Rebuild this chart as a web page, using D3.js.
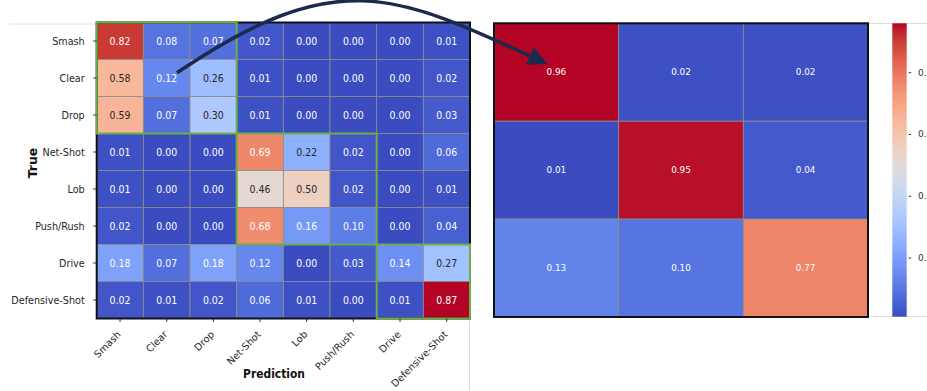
<!DOCTYPE html>
<html>
<head>
<meta charset="utf-8">
<script src="https://cdn.jsdelivr.net/npm/d3@7"></script>
<style>
  html, body { margin: 0; padding: 0; background: #fff; overflow: hidden; }
  svg { display: block; font-family: "DejaVu Sans", sans-serif; }
</style>
</head>
<body>
<svg id="chart" width="927" height="391"></svg>
<script>
// Shot classes of the 8x8 confusion matrix
const shotClasses = ["Smash", "Clear", "Drop", "Net-Shot", "Lob", "Push/Rush", "Drive", "Defensive-Shot"];

// Row-normalised confusion values (rows = true class, columns = predicted class)
const rowSmash     = [0.82, 0.08, 0.07, 0.02, 0.00, 0.00, 0.00, 0.01];
const rowClear     = [0.58, 0.12, 0.26, 0.01, 0.00, 0.00, 0.00, 0.02];
const rowDrop      = [0.59, 0.07, 0.30, 0.01, 0.00, 0.00, 0.00, 0.03];
const rowNetShot   = [0.01, 0.00, 0.00, 0.69, 0.22, 0.02, 0.00, 0.06];
const rowLob       = [0.01, 0.00, 0.00, 0.46, 0.50, 0.02, 0.00, 0.01];
const rowPushRush  = [0.02, 0.00, 0.00, 0.68, 0.16, 0.10, 0.00, 0.04];
const rowDrive     = [0.18, 0.07, 0.18, 0.12, 0.00, 0.03, 0.14, 0.27];
const rowDefensive = [0.02, 0.01, 0.02, 0.06, 0.01, 0.00, 0.01, 0.87];
const fineRows = [rowSmash, rowClear, rowDrop, rowNetShot, rowLob, rowPushRush, rowDrive, rowDefensive];

// Shot groups (index ranges into shotClasses) outlined on the 8x8 matrix
const groupStarts = [0, 3, 6];
const groupEnds   = [2, 5, 7];

// Grouped 3x3 confusion matrix
const groupIds = ["g0", "g1", "g2"];
const groupRow0 = [0.96, 0.02, 0.02];
const groupRow1 = [0.01, 0.95, 0.04];
const groupRow2 = [0.13, 0.10, 0.77];
const groupRows = [groupRow0, groupRow1, groupRow2];

// Colour bar tick values
const colorbarTicks = [0.2, 0.4, 0.6, 0.8];

// matplotlib "coolwarm" colour map stops
const coolwarmStops = [
  [59,76,192],[68,90,204],[77,104,215],[87,117,225],[98,130,234],[108,142,241],
  [119,154,247],[130,165,251],[141,176,254],[152,185,255],[163,194,255],[174,201,253],
  [184,208,249],[194,213,244],[204,217,238],[213,219,230],[221,221,221],[229,216,209],
  [236,211,197],[241,204,185],[245,196,173],[247,187,160],[247,177,148],[247,166,135],
  [244,154,123],[241,141,111],[236,127,99],[229,112,88],[222,96,77],[213,80,66],
  [203,62,56],[192,40,47],[180,4,38]
].map(c => d3.rgb(c[0], c[1], c[2]).formatHex());
const coolwarm = d3.scaleLinear()
  .domain(coolwarmStops.map((_, i) => i / (coolwarmStops.length - 1)))
  .range(coolwarmStops)
  .interpolate(d3.interpolateRgb)
  .clamp(true);

// Text colour on a cell, chosen by background luminance
function textColorFor(fill) {
  const c = d3.rgb(fill);
  const lin = v => { v /= 255; return v <= 0.03928 ? v / 12.92 : Math.pow((v + 0.055) / 1.055, 2.4); };
  const L = 0.2126 * lin(c.r) + 0.7152 * lin(c.g) + 0.0722 * lin(c.b);
  return L > 0.408 ? "#262626" : "#ffffff";
}

const svg = d3.select("#chart");
const fmt = d3.format(".2f");

// Thin panel edges framing the two figures
const edge = svg.append("g").attr("stroke", "#dedede").attr("stroke-width", 1).attr("fill", "none");
edge.append("line").attr("x1", 9).attr("x2", 97).attr("y1", 24).attr("y2", 24);
edge.append("line").attr("x1", 469.5).attr("x2", 469.5).attr("y1", 318).attr("y2", 391);
edge.append("line").attr("x1", 868).attr("x2", 927).attr("y1", 23.5).attr("y2", 23.5);
edge.append("line").attr("x1", 868).attr("x2", 927).attr("y1", 316.5).attr("y2", 316.5);

// ---------- 8x8 matrix ----------
const fx = d3.scaleBand().domain(shotClasses).range([96.7, 470]);
const fy = d3.scaleBand().domain(shotClasses).range([22.5, 318.5]);
const fineMax = d3.max(fineRows.flat());
const fineColor = v => coolwarm(v / fineMax);

const fineCells = [];
fineRows.forEach((row, i) => row.forEach((v, j) => fineCells.push({ t: shotClasses[i], p: shotClasses[j], v })));

const gF = svg.append("g");
gF.selectAll("rect.cell").data(fineCells).join("rect")
  .attr("class", "cell")
  .attr("x", d => fx(d.p)).attr("y", d => fy(d.t))
  .attr("width", fx.bandwidth()).attr("height", fy.bandwidth())
  .attr("fill", d => fineColor(d.v))
  .attr("stroke", "#8c8c8c").attr("stroke-width", 0.8);

gF.selectAll("g.val").data(fineCells).join("g")
  .attr("class", "val")
  .attr("transform", d => `translate(${fx(d.p) + fx.bandwidth() / 2},${fy(d.t) + fy.bandwidth() / 2}) scale(0.84,1)`)
  .append("text")
  .attr("text-anchor", "middle").attr("dominant-baseline", "central")
  .attr("font-size", 11.2)
  .attr("fill", d => textColorFor(fineColor(d.v)))
  .text(d => fmt(d.v));

// outer frame
gF.append("rect")
  .attr("x", fx.range()[0]).attr("y", fy.range()[0])
  .attr("width", fx.range()[1] - fx.range()[0]).attr("height", fy.range()[1] - fy.range()[0])
  .attr("fill", "none").attr("stroke", "#111").attr("stroke-width", 2);

// group outlines
groupStarts.forEach((s, k) => {
  const e = groupEnds[k];
  gF.append("rect")
    .attr("x", fx(shotClasses[s])).attr("y", fy(shotClasses[s]))
    .attr("width", fx(shotClasses[e]) + fx.bandwidth() - fx(shotClasses[s]))
    .attr("height", fy(shotClasses[e]) + fy.bandwidth() - fy(shotClasses[s]))
    .attr("fill", "none").attr("stroke", "#6aaf45").attr("stroke-width", 2);
});

// y axis: true classes
const yAxisG = gF.append("g");
shotClasses.forEach(c => {
  const yc = fy(c) + fy.bandwidth() / 2;
  yAxisG.append("line").attr("x1", fx.range()[0] - 3.5).attr("x2", fx.range()[0])
    .attr("y1", yc).attr("y2", yc).attr("stroke", "#333").attr("stroke-width", 1);
  yAxisG.append("g").attr("transform", `translate(${fx.range()[0] - 12},${yc}) scale(0.86,1)`)
    .append("text").attr("text-anchor", "end").attr("dominant-baseline", "central")
    .attr("font-size", 11.2).attr("fill", "#262626").text(c);
});

// x axis: predicted classes
const xAxisG = gF.append("g");
shotClasses.forEach(c => {
  const xc = fx(c) + fx.bandwidth() / 2;
  const y0 = fy.range()[1];
  xAxisG.append("line").attr("x1", xc).attr("x2", xc).attr("y1", y0).attr("y2", y0 + 3.5)
    .attr("stroke", "#333").attr("stroke-width", 1);
  xAxisG.append("text")
    .attr("transform", `translate(${xc - 1},${y0 + 14}) rotate(-45)`)
    .attr("text-anchor", "end").attr("dominant-baseline", "central")
    .attr("font-size", 9.8).attr("fill", "#262626").text(c);
});

// axis titles
gF.append("g").attr("transform", "translate(32,163) rotate(-90)")
  .append("text").attr("text-anchor", "middle").attr("dominant-baseline", "central")
  .attr("font-size", 12.5).attr("font-weight", "bold").attr("fill", "#111").text("True");
gF.append("g").attr("transform", "translate(274,374) scale(0.86,1)")
  .append("text").attr("text-anchor", "middle").attr("dominant-baseline", "central")
  .attr("font-size", 12.5).attr("font-weight", "bold").attr("fill", "#111").text("Prediction");

// ---------- 3x3 grouped matrix ----------
const gx = d3.scaleBand().domain(groupIds).range([494, 868]);
const gy = d3.scaleBand().domain(groupIds).range([23.3, 317]);
const cbScale = d3.scaleLinear()
  .domain([d3.min(groupRows.flat()), d3.max(groupRows.flat())])
  .range([316.7, 23.3]);
const groupColor = v => coolwarm((v - cbScale.domain()[0]) / (cbScale.domain()[1] - cbScale.domain()[0]));

const groupCells = [];
groupRows.forEach((row, i) => row.forEach((v, j) => groupCells.push({ t: groupIds[i], p: groupIds[j], v })));

const gG = svg.append("g");
gG.selectAll("rect.cell").data(groupCells).join("rect")
  .attr("class", "cell")
  .attr("x", d => gx(d.p)).attr("y", d => gy(d.t))
  .attr("width", gx.bandwidth()).attr("height", gy.bandwidth())
  .attr("fill", d => groupColor(d.v))
  .attr("stroke", "#8c8c8c").attr("stroke-width", 0.8);
gG.selectAll("text.val").data(groupCells).join("text")
  .attr("class", "val")
  .attr("x", d => gx(d.p) + gx.bandwidth() / 2)
  .attr("y", d => gy(d.t) + gy.bandwidth() / 2)
  .attr("text-anchor", "middle").attr("dominant-baseline", "central")
  .attr("font-size", 8.8).attr("fill", "#ffffff")
  .text(d => fmt(d.v));
gG.append("rect")
  .attr("x", gx.range()[0]).attr("y", gy.range()[0])
  .attr("width", gx.range()[1] - gx.range()[0]).attr("height", gy.range()[1] - gy.range()[0])
  .attr("fill", "none").attr("stroke", "#111").attr("stroke-width", 2);

// ---------- colour bar ----------
const defs = svg.append("defs");
const grad = defs.append("linearGradient").attr("id", "cbGrad")
  .attr("x1", 0).attr("y1", 1).attr("x2", 0).attr("y2", 0);
coolwarmStops.forEach((c, i) => grad.append("stop")
  .attr("offset", i / (coolwarmStops.length - 1)).attr("stop-color", c));
const cbX = 892.3, cbW = 14.4;
svg.append("rect").attr("x", cbX).attr("y", cbScale.range()[1])
  .attr("width", cbW).attr("height", cbScale.range()[0] - cbScale.range()[1])
  .attr("fill", "url(#cbGrad)");
const cbAxis = svg.append("g");
colorbarTicks.forEach(t => {
  cbAxis.append("line").attr("x1", cbX + cbW + 2).attr("x2", cbX + cbW + 4.5)
    .attr("y1", cbScale(t)).attr("y2", cbScale(t)).attr("stroke", "#333").attr("stroke-width", 1);
  cbAxis.append("text").attr("x", 918).attr("y", cbScale(t))
    .attr("dominant-baseline", "central").attr("font-size", 9)
    .attr("fill", "#333").text(d3.format(".1f")(t));
});

// ---------- annotation arrow from the 8x8 matrix to the grouped matrix ----------
const p0 = [fx("Clear") + fx.bandwidth() * 0.72, fy("Clear") + fy.bandwidth() * 0.36];
const p3 = [gx("g0") + gx.bandwidth() * 0.40, gy("g0") + gy.bandwidth() * 0.40];
const c1 = [p0[0] + 160, p0[1] - 108];
const c2 = [p3[0] - 150, p3[1] - 70];
defs.append("marker").attr("id", "arrowHead")
  .attr("viewBox", "0 0 10 10").attr("refX", 8).attr("refY", 5)
  .attr("markerWidth", 5.5).attr("markerHeight", 5.5).attr("orient", "auto")
  .attr("markerUnits", "strokeWidth")
  .append("path").attr("d", "M0,0 L10,5 L0,10 Z").attr("fill", "#1a2b4c");
const arrowPath = d3.path();
arrowPath.moveTo(p0[0], p0[1]);
arrowPath.bezierCurveTo(c1[0], c1[1], c2[0], c2[1], p3[0], p3[1]);
svg.append("path").attr("d", arrowPath.toString())
  .attr("fill", "none").attr("stroke", "#1a2b4c").attr("stroke-width", 3.5)
  .attr("stroke-linecap", "butt")
  .attr("marker-end", "url(#arrowHead)");
</script>
</body>
</html>
